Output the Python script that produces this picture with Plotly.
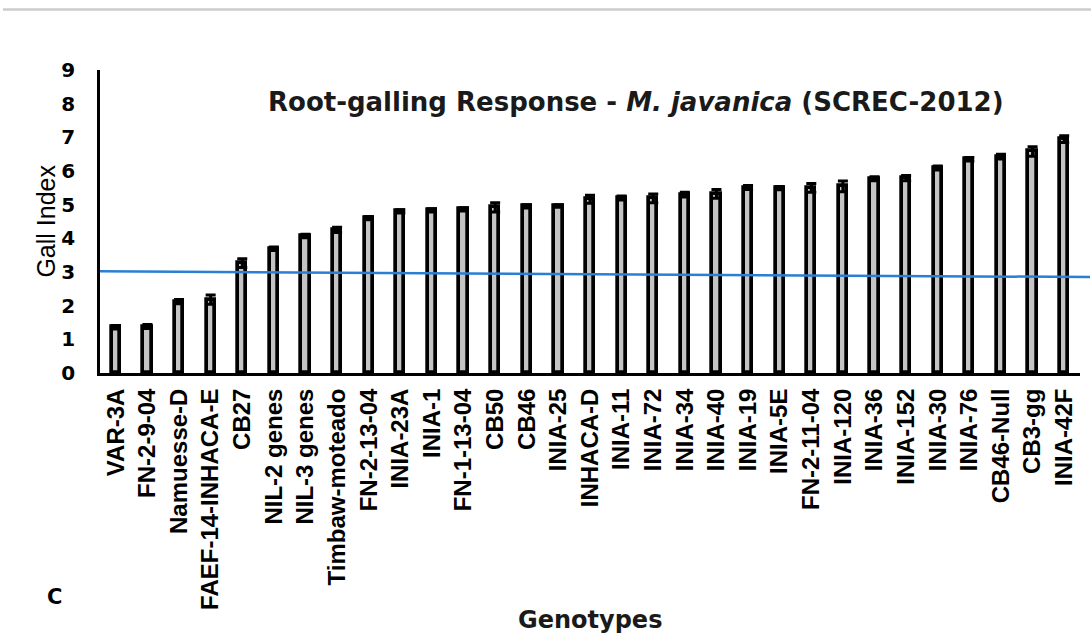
import plotly.graph_objects as go

genotypes = ["VAR-3A", "FN-2-9-04", "Namuesse-D", "FAEF-14-INHACA-E", "CB27",
             "NIL-2 genes", "NIL-3 genes", "Timbaw-moteado", "FN-2-13-04", "INIA-23A",
             "INIA-1", "FN-1-13-04", "CB50", "CB46", "INIA-25", "INHACA-D", "INIA-11",
             "INIA-72", "INIA-34", "INIA-40", "INIA-19", "INIA-5E", "FN-2-11-04",
             "INIA-120", "INIA-36", "INIA-152", "INIA-30", "INIA-76", "CB46-Null",
             "CB3-gg", "INIA-42F"]
gall_index = [1.36, 1.38, 2.12, 2.18, 3.26, 3.69, 4.07, 4.25, 4.60, 4.80,
              4.83, 4.86, 4.92, 4.95, 4.96, 5.16, 5.20, 5.19, 5.30, 5.32,
              5.51, 5.49, 5.50, 5.54, 5.77, 5.79, 6.09, 6.35, 6.43, 6.58, 6.95]
std_err = [0.05, 0.06, 0.06, 0.14, 0.13, 0.05, 0.05, 0.08, 0.05, 0.05,
           0.05, 0.05, 0.14, 0.05, 0.04, 0.12, 0.06, 0.13, 0.07, 0.13,
           0.06, 0.05, 0.13, 0.16, 0.06, 0.08, 0.06, 0.05, 0.07, 0.14, 0.10]
threshold = [3.02, 2.85]  # resistance threshold line, left end / right end
y_ticks = list(range(0, 10))

fig = go.Figure()
fig.add_trace(go.Bar(
    x=genotypes, y=gall_index, width=0.26,
    marker=dict(color="#c4c4c4", line=dict(color="black", width=3.7)),
    error_y=dict(type="data", array=std_err, visible=True,
                 color="black", thickness=3, width=5),
    showlegend=False,
))

# threshold line
fig.add_shape(type="line", xref="paper", yref="y",
              x0=0.0, x1=1.0102, y0=threshold[0], y1=threshold[1],
              line=dict(color="#2a7fd4", width=2.5), layer="above")
# thin gray rule at very top of the page
fig.add_shape(type="line", xref="paper", yref="paper",
              x0=-0.099, x1=1.0112, y0=1.200, y1=1.200,
              line=dict(color="#cccccc", width=2.5))

fig.update_layout(
    width=1091, height=642,
    margin=dict(l=100, r=11, t=70, b=269),
    paper_bgcolor="white", plot_bgcolor="white",
    bargap=0.0,
    xaxis=dict(
        range=[-0.5, 30.5], tickangle=-90, showgrid=False, ticks="",
        showline=True, linecolor="black", linewidth=3,
        tickfont=dict(family="Liberation Sans", size=24, color="black", weight="bold"),
        ticklabelstandoff=3,
    ),
    yaxis=dict(
        range=[0, 9], tickvals=y_ticks, showgrid=False, zeroline=False, ticks="",
        showline=True, linecolor="black", linewidth=2.5,
        tickfont=dict(family="DejaVu Sans", size=20, color="black", weight="bold"),
        ticklabelstandoff=18,
    ),
    annotations=[
        dict(text="<b>Root-galling Response - <i>M. javanica</i> (SCREC-2012)</b>",
             xref="paper", yref="paper", x=0.547, y=0.893, showarrow=False,
             xanchor="center", yanchor="middle",
             font=dict(family="DejaVu Sans", size=26, color="#1a1a1a")),
        dict(text="Gall Index", xref="paper", yref="paper", x=-0.056, y=0.5,
             textangle=-90, showarrow=False, xanchor="center", yanchor="middle",
             font=dict(family="Liberation Sans", size=25, color="black")),
        dict(text="<b>Genotypes</b>", xref="paper", yref="paper", x=0.5, y=-0.815,
             showarrow=False, xanchor="center", yanchor="middle",
             font=dict(family="DejaVu Sans", size=24, color="#1a1a1a")),
        dict(text="<b>C</b>", xref="paper", yref="paper", x=-0.046, y=-0.739,
             showarrow=False, xanchor="center", yanchor="middle",
             font=dict(family="DejaVu Sans", size=21, color="black")),
    ],
)

fig.write_html("out.html")
